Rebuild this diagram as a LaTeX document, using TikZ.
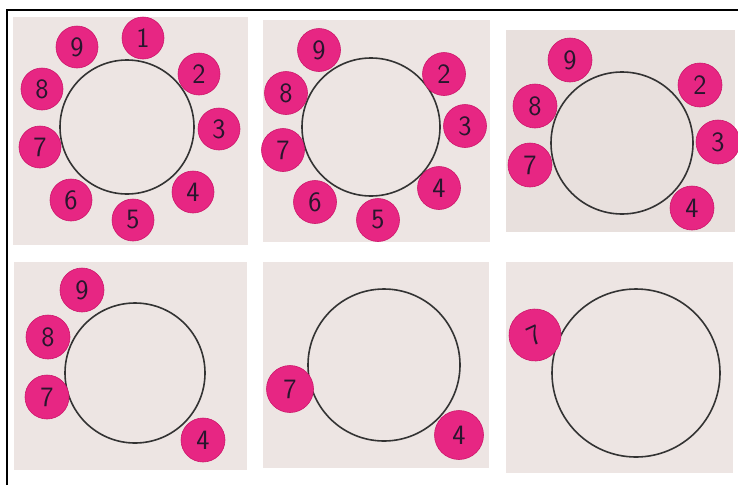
\documentclass[tikz,border=0pt]{standalone}
\usepackage{tikz}
\definecolor{paper}{RGB}{237,229,227}
\definecolor{paperb}{RGB}{232,224,221}
\definecolor{discpink}{RGB}{231,38,131}
\definecolor{discedge}{RGB}{205,22,106}
\definecolor{ink}{RGB}{40,22,45}

\begin{document}
\begin{tikzpicture}[
  x=1pt, y=-1pt,
  panel/.style = {fill=paper, draw=none},
  ring/.style  = {circle, draw=black!80, line width=1.6pt, inner sep=0pt},
  disc/.style  = {circle, fill=discpink, draw=discedge, line width=0.6pt, inner sep=0pt,
                  minimum size=#1, text=ink, font=\sffamily\fontsize{28}{28}\selectfont},
  disc/.default = 42pt,
]
\useasboundingbox (0,0) rectangle (738,485);

% outer frame (only top and left show)
\draw[line width=1.4pt] (7,485) -- (7,10) -- (738,10);

% =============== top row ===============
\fill[panel] (13,17) rectangle (248,245);
\fill[panel] (263,20) rectangle (490,242);
\fill[panel, fill=paperb] (506,30) rectangle (735,232);

\node[ring, minimum size=134pt] (ringA) at (127,127) {};
\foreach \n/\px/\py in {1/143/38, 2/199/74, 3/219/129, 4/193/192, 5/133/220,
                        6/71/200, 7/40/147, 8/42/89, 9/77/47}
  \node[disc] (a\n) at (\px,\py) {\n};

\node[ring, minimum size=138pt] (ringB) at (371,127) {};
\foreach \n/\px/\py in {2/444/74, 3/465/126, 4/439/188, 5/378/220,
                        6/315/202, 7/283/150, 8/286/93, 9/319/50}
  \node[disc=43pt] (b\n) at (\px,\py) {\n};

\node[ring, minimum size=142pt] (ringC) at (622,143) {};
\foreach \n/\px/\py in {2/700/85, 3/718/142, 4/692/208,
                        7/530/165, 8/535/106, 9/570/60}
  \node[disc=44pt] (c\n) at (\px,\py) {\n};

% =============== bottom row ===============
\fill[panel] (14,262) rectangle (247,470);
\fill[panel] (263,262) rectangle (489,468);
\fill[panel] (506,262) rectangle (733,473);

\node[ring, minimum size=140pt] (ringD) at (135,373) {};
\foreach \n/\px/\py in {4/203/440, 7/47/397, 8/48/337, 9/82/290}
  \node[disc=44pt] (d\n) at (\px,\py) {\n};

\node[ring, minimum size=152pt] (ringE) at (384,365) {};
\node[disc=47pt] (e7) at (290,389) {7};
\node[disc=49pt] (e4) at (459,435) {4};

\node[ring, minimum size=168pt] (ringF) at (636,373) {};
\node[disc=52pt, rotate=25] (f7) at (535,335) {7};

\end{tikzpicture}
\end{document}
